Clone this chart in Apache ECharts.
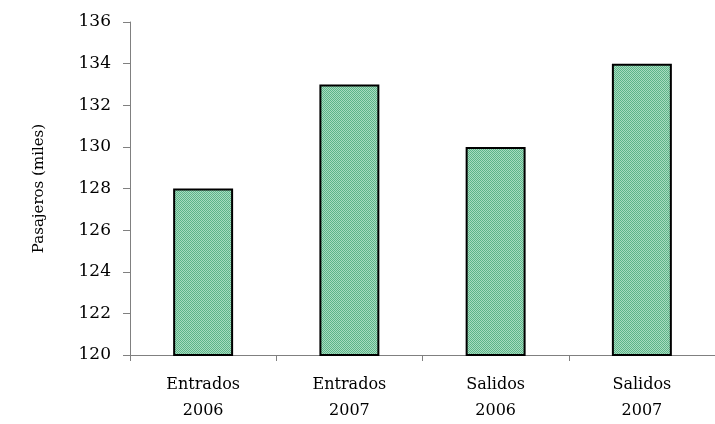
<!DOCTYPE html>
<html>
<head>
<meta charset="utf-8">
<script src="https://cdn.jsdelivr.net/npm/echarts@6/dist/echarts.min.js"></script>
<style>html,body{margin:0;padding:0;background:#fff;}#c{width:715px;height:424px;}</style>
</head>
<body>
<div id="c"></div>
<script>
const categories = ['Entrados\n2006', 'Entrados\n2007', 'Salidos\n2006', 'Salidos\n2007'];
const passengers = [128, 133, 130, 134];
const yTicks = { min: 120, max: 136, interval: 2 };

// checker fill pattern
const pc = document.createElement('canvas');
pc.width = 2; pc.height = 2;
const px = pc.getContext('2d');
px.fillStyle = '#a8dcc0'; px.fillRect(0, 0, 2, 2);
px.fillStyle = '#5db489'; px.fillRect(0, 0, 1, 1); px.fillRect(1, 1, 1, 1);

const chart = echarts.init(document.getElementById('c'), null, { renderer: 'canvas' });
const serif = 'DejaVu Serif';
chart.setOption({
  animation: false,
  grid: { left: 130, top: 22, width: 594, height: 337, containLabel: false },
  xAxis: {
    type: 'category',
    data: categories,
    axisLine: { lineStyle: { color: '#808080', width: 1 } },
    axisTick: { show: true, length: 6, lineStyle: { color: '#808080' } },
    axisLabel: { margin: 17, color: '#000', fontFamily: serif, fontSize: 16, lineHeight: 26 }
  },
  yAxis: {
    type: 'value',
    min: yTicks.min, max: yTicks.max, interval: yTicks.interval,
    name: 'Pasajeros (miles)',
    nameLocation: 'middle',
    nameGap: 83,
    nameRotate: 90,
    nameTextStyle: { fontFamily: serif, fontSize: 15, color: '#000' },
    axisLine: { show: true, lineStyle: { color: '#808080', width: 1 } },
    axisTick: { show: true, length: 7, lineStyle: { color: '#808080' } },
    splitLine: { show: false },
    axisLabel: { margin: 19, color: '#000', fontFamily: serif, fontSize: 17 }
  },
  series: [{
    type: 'bar',
    data: passengers,
    barWidth: '41%',
    itemStyle: {
      color: { image: pc, repeat: 'repeat' },
      borderColor: '#000',
      borderWidth: 2
    }
  }]
});
</script>
</body>
</html>
